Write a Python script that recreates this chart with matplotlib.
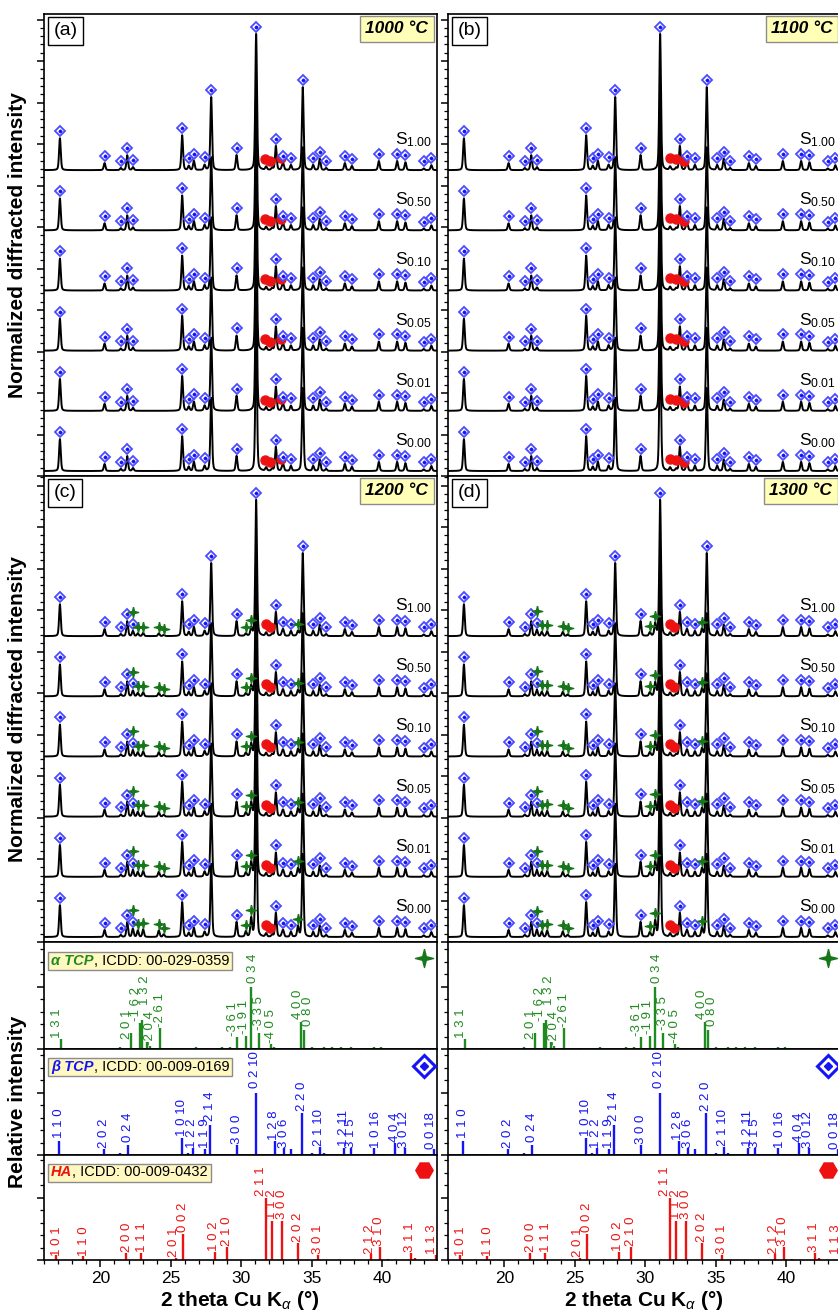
import numpy as np
import matplotlib
matplotlib.use('Agg')
import matplotlib.pyplot as plt
from matplotlib.patches import Rectangle
from matplotlib.ticker import MultipleLocator
from matplotlib.transforms import Bbox, blended_transform_factory

plt.rcParams['font.family'] = ['Liberation Sans', 'DejaVu Sans']
plt.rcParams['mathtext.fontset'] = 'custom'
plt.rcParams['mathtext.rm'] = 'Liberation Sans'
plt.rcParams['mathtext.it'] = 'Liberation Sans:italic'
plt.rcParams['mathtext.bf'] = 'Liberation Sans:bold'

# samples from bottom to top of each stack
samples = ['0.00', '0.01', '0.05', '0.10', '0.50', '1.00']
temps = ['1000 °C', '1100 °C', '1200 °C', '1300 °C']
tags = ['(a)', '(b)', '(c)', '(d)']

# beta-TCP reflections in the measured patterns (2theta, height in y-tick units)
beta_pos = [17.13, 20.30, 21.45, 21.91, 22.32, 25.81, 26.28, 26.64, 27.40, 27.87,
            29.67, 31.06, 32.46, 32.98, 33.53, 34.37, 35.11, 35.58, 36.03, 37.36,
            37.86, 39.77, 41.07, 41.66, 42.96, 43.50]
beta_h = [0.77, 0.17, 0.05, 0.36, 0.07, 0.84, 0.10, 0.22, 0.12, 1.76,
          0.36, 3.28, 0.58, 0.14, 0.12, 2.00, 0.12, 0.27, 0.05, 0.17,
          0.10, 0.22, 0.22, 0.19, 0.04, 0.12]

# alpha-TCP reflections (only after 1200 and 1300 °C)
alpha_pos = [22.30, 22.66, 23.04, 24.15, 24.50, 30.33, 30.71, 34.03]
alpha_h = [0.10, 0.12, 0.14, 0.12, 0.05, 0.10, 0.34, 0.19]
alpha_amount_1200 = [1.30, 1.00, 0.95, 0.85, 0.70, 0.55]
alpha_amount_1300 = [1.10, 1.00, 1.00, 0.95, 0.90, 0.85]

# HA contribution
ha_pos = [31.77, 32.20, 32.90]
ha_h = [0.08, 0.05, 0.06]
ha_mark_1000 = [31.72, 32.02, 32.86]
ha_mark_1100 = [31.78, 32.22, 32.72]
ha_mark_1200 = [31.75, 32.05]
ha_mark_1300 = [31.75, 32.05]

# reference cards: line positions and relative intensities
alpha_ref_pos = [17.18, 18.38, 19.59, 20.87, 21.43, 22.19, 22.80, 22.97, 23.33, 23.49,
                 24.22, 25.39, 26.76, 27.59, 28.30, 28.65, 29.24, 29.67, 30.35, 30.71,
                 31.25, 32.08, 32.31, 32.67, 34.21, 34.49, 35.04, 35.87, 36.46, 37.05,
                 37.76, 38.94, 39.41, 39.89]
alpha_ref_I = [16, 2, 2, 2, 3, 25, 42, 47, 11, 5,
               33, 2, 4, 2, 2, 3, 3, 19, 21, 100,
               26, 8, 3, 2, 44, 30, 4, 3, 4, 3,
               3, 2, 3, 3]
alpha_lab = ['1 3 1', '2 0 1', '-1 6 2', '-2 0 4', '1 3 2', '-2 6 1', '-3 6 1', '-1 9 1',
             '0 3 4', '-3 3 5', '-4 0 5', '4 0 0', '0 8 0']
alpha_lab_x = [16.95, 21.90, 22.55, 23.49, 23.20, 24.22, 29.45, 30.23,
               30.85, 31.25, 32.08, 34.00, 34.75]
alpha_lab_y = [17, 15, 44, 6, 70, 34, 20, 23, 104, 29, 9, 47, 36]

beta_ref_pos = [17.05, 18.50, 20.25, 21.43, 21.98, 22.10, 25.83, 26.20, 26.60, 27.40,
                27.77, 28.80, 29.67, 31.03, 32.43, 33.02, 33.50, 34.35, 35.04, 35.58,
                35.87, 37.28, 37.80, 39.45, 40.10, 40.95, 41.61, 42.85, 43.67]
beta_ref_I = [22, 1, 9, 3, 16, 2, 27, 3, 11, 9,
              48, 2, 16, 100, 22, 11, 9, 68, 4, 13,
              4, 12, 11, 11, 2, 19, 12, 2, 9]
beta_lab = ['1 1 0', '2 0 2', '0 2 4', '1 0 10', '1 2 2', '1 1 9', '2 1 4', '3 0 0',
            '0 2 10', '1 2 8', '3 0 6', '2 2 0', '2 1 10', '1 2 11', '3 1 5', '1 0 16',
            '4 0 4', '3 0 12', '0 0 18']
beta_lab_x = [17.10, 20.25, 21.98, 25.81, 26.50, 27.40, 27.77, 29.72,
              31.01, 32.36, 33.02, 34.33, 35.51, 37.28, 37.80, 39.60,
              40.90, 41.59, 43.50]
beta_lab_y = [26, 11, 19, 29, 11, 11, 53, 16, 106, 23, 11, 69, 13, 13, 11, 11, 19, 11, 9]

ha_ref_pos = [16.84, 18.78, 21.82, 22.90, 25.35, 25.88, 28.13, 28.97, 31.77, 32.20,
              32.90, 34.05, 35.48, 39.20, 39.82, 40.45, 42.03, 42.32, 43.80]
ha_ref_I = [8, 6, 12, 11, 4, 42, 13, 21, 100, 62,
            62, 27, 8, 9, 21, 2, 11, 3, 8]
ha_lab = ['1 0 1', '1 1 0', '2 0 0', '1 1 1', '2 0 1', '0 0 2', '1 0 2', '2 1 0', '2 1 1',
          '1 1 2', '3 0 0', '2 0 2', '3 0 1', '2 1 2', '3 1 0', '3 1 1', '1 1 3']
ha_lab_x = [16.89, 18.83, 21.91, 22.97, 25.22, 25.88, 28.06, 28.96, 31.42,
            32.20, 32.91, 34.02, 35.46, 39.13, 39.77, 41.95, 43.56]
ha_lab_y = [5, 5, 11, 11, 4, 43, 13, 21, 102, 64, 64, 27, 8, 9, 21, 11, 8]

green = '#1f8a1f'
green_m = '#17761a'
blue = '#1414f5'
blue_m = '#4a4aff'
red = '#ee1111'
yellow = '#fff8c0'

W, H = 838, 1314
PX_UNIT = 41.5      # pixels per y tick unit in the pattern panels
PX_100 = 62.5       # pixels per 100 % in the reference panels
XMIN, XMAX = 16.0, 43.9

fig = plt.figure(figsize=(W / 100, H / 100), dpi=100)

star4 = [(0, 1), (0.2, 0.2), (1, 0), (0.2, -0.2), (0, -1), (-0.2, -0.2), (-1, 0), (-0.2, 0.2), (0, 1)]
xgrid = np.linspace(15.8, 44.3, 2851)


def peaks(pos, hh, fwhm=0.14, eta=0.35):
    y = np.zeros_like(xgrid)
    for p, a in zip(pos, hh):
        d = (xgrid - p) / fwhm
        y += a * ((1 - eta) * np.exp(-4 * np.log(2) * d ** 2) + eta / (1 + 4 * d ** 2))
    return y


def make_axes(x0, ytop, ybot):
    ax = fig.add_axes([x0 / W, 1 - ybot / H, 393 / W, (ybot - ytop) / H])
    ax.set_xlim(XMIN, XMAX)
    ax.xaxis.set_major_locator(MultipleLocator(5))
    ax.xaxis.set_minor_locator(MultipleLocator(1))
    ax.tick_params(which='major', direction='out', length=5, width=1.1, labelsize=12.5, pad=3)
    ax.tick_params(which='minor', direction='out', length=3, width=0.9)
    ax.tick_params(labelbottom=False, labelleft=False)
    for s in ax.spines.values():
        s.set_linewidth(1.2)
    return ax


def pattern_panel(ax, k, amount, ha_mark, height_px):
    ax.set_ylim(0, height_px / PX_UNIT)
    ax.yaxis.set_major_locator(MultipleLocator(1))
    ax.yaxis.set_minor_locator(MultipleLocator(0.2))
    tr = blended_transform_factory(ax.transAxes, ax.transData)
    for i, s in enumerate(samples):
        off = 0.12 + 1.45 * i
        pos = beta_pos + ha_pos
        hh = beta_h + ha_h
        if amount is not None:
            pos = pos + alpha_pos
            hh = hh + [a * amount[i] for a in alpha_h]
        y = off + peaks(pos, hh)
        ax.plot(xgrid, y, color='black', lw=1.4, zorder=2)

        top = i == len(samples) - 1
        bx = [p for p, h in zip(beta_pos, beta_h) if top or h < 1.0]
        by = np.interp(bx, xgrid, y) + 0.17
        ax.plot(bx, by, ls='none', marker='D', ms=4.8, mfc='white', mec=blue_m, mew=1.3, zorder=5)
        ax.plot(bx, by, ls='none', marker='D', ms=1.5, color=blue, zorder=6)

        hy = np.interp(ha_mark, xgrid, y) + 0.2
        ax.plot(ha_mark, hy, ls='none', marker='o', ms=6.5, color=red, zorder=4)

        if amount is not None:
            ay = np.interp(alpha_pos, xgrid, y) + 0.15
            near = [min(abs(p - b) for b in beta_pos) < 0.1 for p in alpha_pos]
            ay = ay + np.where(near, 0.3, 0.0)
            ax.plot(alpha_pos, ay, ls='none', marker=star4, ms=7.5, color=green_m, zorder=6)

        ax.text(0.988, off + 0.62, 'S$_{%s}$' % s, transform=tr, ha='right', va='baseline',
                fontsize=12.5, zorder=7)

    ax.text(0.025, 0.982, tags[k], transform=ax.transAxes, ha='left', va='top', fontsize=14,
            bbox=dict(boxstyle='square,pad=0.28', fc='white', ec='black', lw=1), zorder=8)
    ax.text(0.978, 0.984, temps[k], transform=ax.transAxes, ha='right', va='top', fontsize=12.5,
            fontweight='bold', fontstyle='italic',
            bbox=dict(boxstyle='square,pad=0.3', fc='#ffffb8', ec='#8c8c8c', lw=1), zorder=8)


def ref_panel(ax, pos, I, color, labs, lx, ly, height_px):
    ax.set_ylim(0, height_px / PX_100 * 100)
    ax.yaxis.set_major_locator(MultipleLocator(100))
    ax.yaxis.set_minor_locator(MultipleLocator(20))
    ax.vlines(pos, 0, I, color=color, lw=1.7, zorder=2)
    for t, x, y in zip(labs, lx, ly):
        ax.text(x, y + 1, t, rotation=90, ha='center', va='bottom', color=color, fontsize=9.5, zorder=3)


tag_boxes = []


def phase_tag(ax, name, rest, color, ytop):
    t1 = ax.text(0.018, ytop, name, transform=ax.transAxes, color=color, fontsize=10.5,
                 fontweight='bold', fontstyle='italic', ha='left', va='top', zorder=6)
    t2 = ax.annotate(rest, xy=(1, 0), xycoords=t1, ha='left', va='bottom', fontsize=10.5, zorder=6)
    tag_boxes.append((ax, t1, t2))


cols = [44, 448]
amounts = [None, None, alpha_amount_1200, alpha_amount_1300]
ha_marks = [ha_mark_1000, ha_mark_1100, ha_mark_1200, ha_mark_1300]
rows = [(14, 476), (476, 942)]

for k in range(4):
    c = k % 2
    r0, r1 = rows[k // 2]
    ax = make_axes(cols[c], r0, r1)
    pattern_panel(ax, k, amounts[k], ha_marks[k], r1 - r0)

for c in range(2):
    axa = make_axes(cols[c], 942, 1049)
    ref_panel(axa, alpha_ref_pos, alpha_ref_I, green, alpha_lab, alpha_lab_x, alpha_lab_y, 107)
    axa.plot([0.966], [0.85], transform=axa.transAxes, marker=star4, ms=13, color=green_m,
             clip_on=False, zorder=5)

    axb = make_axes(cols[c], 1049, 1155)
    ref_panel(axb, beta_ref_pos, beta_ref_I, blue, beta_lab, beta_lab_x, beta_lab_y, 106)
    axb.plot([0.966], [0.84], transform=axb.transAxes, marker='D', ms=11, mfc='white', mec=blue,
             mew=2.2, clip_on=False, zorder=5)
    axb.plot([0.966], [0.84], transform=axb.transAxes, marker='D', ms=4.5, color=blue,
             clip_on=False, zorder=6)

    axh = make_axes(cols[c], 1155, 1260)
    ref_panel(axh, ha_ref_pos, ha_ref_I, red, ha_lab, ha_lab_x, ha_lab_y, 105)
    axh.plot([0.966], [0.855], transform=axh.transAxes, marker='H', ms=12.5, color=red,
             clip_on=False, zorder=5)
    axh.tick_params(labelbottom=True)

    if c == 0:
        phase_tag(axa, 'α TCP', ', ICDD: 00-029-0359', green, 0.89)
        phase_tag(axb, 'β TCP', ', ICDD: 00-009-0169', blue, 0.895)
        phase_tag(axh, 'HA', ', ICDD: 00-009-0432', red, 0.9)

    fig.text((cols[c] + 196) / W, 1 - 1301 / H, r'2 theta Cu K$_\alpha$ (°)', ha='center',
             va='center', fontsize=15, fontweight='bold')

fig.text(18 / W, 1 - 245 / H, 'Normalized diffracted intensity', rotation=90, ha='center',
         va='center', fontsize=15, fontweight='bold')
fig.text(18 / W, 1 - 709 / H, 'Normalized diffracted intensity', rotation=90, ha='center',
         va='center', fontsize=15, fontweight='bold')
fig.text(18 / W, 1 - 1102 / H, 'Relative intensity', rotation=90, ha='center',
         va='center', fontsize=15, fontweight='bold')

# yellow boxes behind the two-coloured phase captions
fig.canvas.draw()
rend = fig.canvas.get_renderer()
inv = fig.transFigure.inverted()
for ax, t1, t2 in tag_boxes:
    bb = Bbox.union([t1.get_window_extent(rend), t2.get_window_extent(rend)])
    x0, y0 = inv.transform((bb.x0 - 3, bb.y0 - 2))
    x1, y1 = inv.transform((bb.x1 + 3, bb.y1 + 2))
    ax.add_patch(Rectangle((x0, y0), x1 - x0, y1 - y0, transform=fig.transFigure, fc=yellow,
                           ec='#8c8c8c', lw=1, zorder=4, clip_on=False))

fig.savefig('out.png', dpi=100)
